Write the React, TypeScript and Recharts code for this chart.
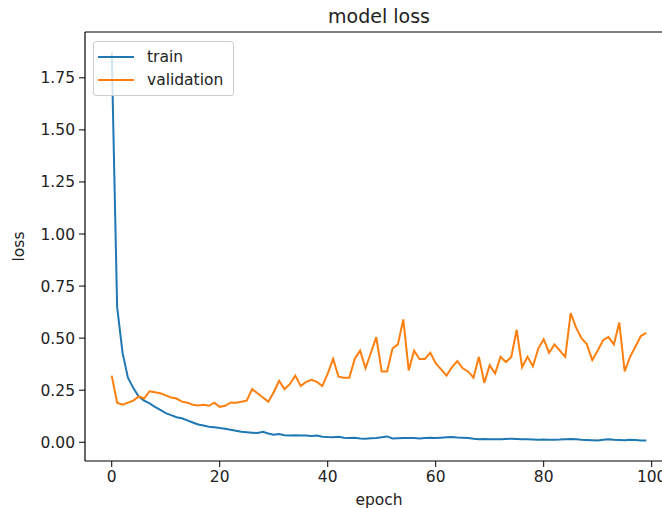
import { LineChart, Line, XAxis, YAxis, ReferenceLine } from 'recharts'

// loss per epoch, 100 epochs
const epochs = Array.from({ length: 100 }, (_, i) => i)

const trainLoss = [
  1.87, 0.65, 0.43, 0.31, 0.26, 0.22, 0.2, 0.187, 0.17, 0.155,
  0.14, 0.13, 0.12, 0.115, 0.105, 0.095, 0.085, 0.08, 0.075, 0.072,
  0.068, 0.065, 0.06, 0.055, 0.05, 0.048, 0.046, 0.044, 0.05, 0.042,
  0.036, 0.04, 0.034, 0.033, 0.034, 0.032, 0.033, 0.03, 0.032, 0.027,
  0.025, 0.024, 0.026, 0.022, 0.02, 0.022, 0.018, 0.017, 0.019, 0.021,
  0.024, 0.028, 0.018, 0.019, 0.02, 0.021, 0.02, 0.018, 0.02, 0.022,
  0.02, 0.022, 0.024, 0.025, 0.023, 0.022, 0.02, 0.017, 0.015, 0.016,
  0.014, 0.015, 0.014, 0.016, 0.017, 0.016, 0.015, 0.014, 0.013, 0.012,
  0.013, 0.012, 0.012, 0.013, 0.015, 0.016, 0.014, 0.012, 0.011, 0.01,
  0.009, 0.012, 0.014, 0.012, 0.011, 0.01, 0.012, 0.011, 0.009, 0.008,
]

const validationLoss = [
  0.32, 0.19, 0.18, 0.19, 0.2, 0.22, 0.21, 0.245, 0.24, 0.235,
  0.225, 0.215, 0.21, 0.195, 0.19, 0.18, 0.177, 0.18, 0.175, 0.19,
  0.17, 0.175, 0.19, 0.19, 0.195, 0.2, 0.255, 0.235, 0.215, 0.195,
  0.24, 0.295, 0.255, 0.28, 0.32, 0.27, 0.29, 0.3, 0.29, 0.27,
  0.33, 0.4, 0.315, 0.31, 0.31, 0.4, 0.44, 0.355, 0.43, 0.505,
  0.34, 0.34, 0.45, 0.47, 0.59, 0.345, 0.44, 0.4, 0.4, 0.43,
  0.38, 0.35, 0.32, 0.36, 0.39, 0.355, 0.34, 0.31, 0.41, 0.285,
  0.37, 0.33, 0.41, 0.385, 0.41, 0.54, 0.36, 0.41, 0.365, 0.45,
  0.495, 0.43, 0.47, 0.44, 0.41, 0.62, 0.55, 0.5, 0.47, 0.395,
  0.44, 0.49, 0.505, 0.47, 0.575, 0.34, 0.41, 0.46, 0.51, 0.525,
]

const xTicks = [0, 20, 40, 60, 80, 100]
const yTicks = [0, 0.25, 0.5, 0.75, 1.0, 1.25, 1.5, 1.75]

const X_DOMAIN = [-4.95, 103.95]
const Y_DOMAIN = [-0.09, 1.97]

const series = [
  { key: 'train', name: 'train', color: '#1f77b4' },
  { key: 'validation', name: 'validation', color: '#ff7f0e' },
]

const data = epochs.map((epoch, i) => ({
  epoch,
  train: trainLoss[i],
  validation: validationLoss[i],
}))

const FONT = '"DejaVu Sans", sans-serif'
const TEXT = '#222'

function Legend() {
  return (
    <div
      style={{
        position: 'absolute',
        left: 93,
        top: 41,
        width: 139,
        height: 53,
        background: 'rgba(255,255,255,0.8)',
        border: '1px solid #cccccc',
        borderRadius: 3,
        fontFamily: FONT,
        fontSize: 15.5,
        color: TEXT,
      }}
    >
      {series.map((s, i) => (
        <div
          key={s.key}
          style={{
            position: 'absolute',
            left: 4,
            top: 5 + i * 23,
            height: 20,
            display: 'flex',
            alignItems: 'center',
          }}
        >
          <span
            style={{ width: 36, height: 2, background: s.color, display: 'inline-block' }}
          />
          <span style={{ marginLeft: 13, lineHeight: '20px' }}>{s.name}</span>
        </div>
      ))}
    </div>
  )
}

export default function App() {
  return (
    <div
      style={{
        position: 'absolute',
        left: 0,
        top: 0,
        width: 662,
        height: 508,
        overflow: 'hidden',
        background: '#fff',
      }}
    >
      <LineChart
        width={700}
        height={508}
        data={data}
        margin={{ top: 32, right: 27, bottom: 17, left: 25 }}
      >
        <XAxis
          type="number"
          dataKey="epoch"
          domain={X_DOMAIN}
          allowDataOverflow
          ticks={xTicks}
          height={30}
          tickSize={6}
          tickMargin={4}
          axisLine={{ stroke: '#000', strokeWidth: 1.2 }}
          tickLine={{ stroke: '#000' }}
          tick={{ fill: TEXT, fontFamily: FONT, fontSize: 15.5 }}
          label={{
            content: ({ viewBox }: any) => (
              <text
                x={viewBox.x + viewBox.width / 2}
                y={505}
                textAnchor="middle"
                fontFamily={FONT}
                fontSize={15.5}
                fill={TEXT}
              >
                epoch
              </text>
            ),
          }}
        />
        <YAxis
          type="number"
          domain={Y_DOMAIN}
          allowDataOverflow
          ticks={yTicks}
          width={60}
          tickSize={6}
          tickMargin={4}
          tickFormatter={(v: number) => v.toFixed(2)}
          axisLine={{ stroke: '#000', strokeWidth: 1.2 }}
          tickLine={{ stroke: '#000' }}
          tick={{ fill: TEXT, fontFamily: FONT, fontSize: 15.5 }}
          label={{
            content: ({ viewBox }: any) => {
              const cy = viewBox.y + viewBox.height / 2
              return (
                <text
                  x={24}
                  y={cy}
                  textAnchor="middle"
                  transform={`rotate(-90, 24, ${cy})`}
                  fontFamily={FONT}
                  fontSize={15.5}
                  fill={TEXT}
                >
                  loss
                </text>
              )
            },
          }}
        />
        {/* top spine, title sits above it */}
        <ReferenceLine
          y={Y_DOMAIN[1]}
          stroke="#000"
          strokeWidth={1.2}
          label={{
            content: ({ viewBox }: any) => (
              <text
                x={viewBox.x + viewBox.width / 2}
                y={viewBox.y - 9}
                textAnchor="middle"
                fontFamily={FONT}
                fontSize={19}
                fill={TEXT}
              >
                model loss
              </text>
            ),
          }}
        />
        {series.map((s) => (
          <Line
            key={s.key}
            type="linear"
            dataKey={s.key}
            name={s.name}
            stroke={s.color}
            strokeWidth={2}
            dot={false}
            activeDot={false}
            isAnimationActive={false}
          />
        ))}
      </LineChart>
      <Legend />
    </div>
  )
}
